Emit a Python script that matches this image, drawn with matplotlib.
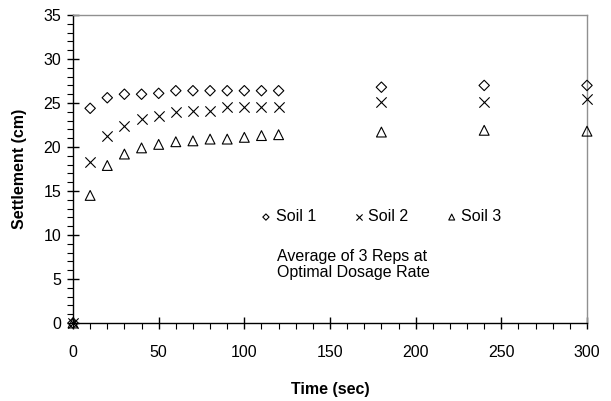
import matplotlib
matplotlib.use("Agg")
import matplotlib.pyplot as plt
from matplotlib.ticker import MultipleLocator

plt.rcParams["font.family"] = ["Liberation Sans", "DejaVu Sans"]

time_sec = [0, 10, 20, 30, 40, 50, 60, 70, 80, 90, 100, 110, 120, 180, 240, 300]
soil1 = [0, 24.4, 25.6, 26.0, 26.0, 26.1, 26.4, 26.4, 26.4, 26.4, 26.4, 26.4, 26.4, 26.8, 27.0, 27.0]
soil2 = [0, 18.3, 21.3, 22.4, 23.2, 23.5, 24.0, 24.1, 24.1, 24.5, 24.5, 24.5, 24.6, 25.1, 25.1, 25.5]
soil3 = [0, 14.5, 17.9, 19.2, 19.9, 20.3, 20.6, 20.7, 20.9, 20.9, 21.1, 21.3, 21.4, 21.7, 21.9, 21.8]

fig = plt.figure(figsize=(6.11, 4.01), dpi=100)
ax = fig.add_axes([0.1195, 0.1945, 0.8412, 0.768])

ax.scatter(time_sec, soil1, marker="D", s=28, facecolors="none", edgecolors="black",
           linewidths=0.8, label="Soil 1", clip_on=False, zorder=3)
ax.scatter(time_sec, soil2, marker="x", s=55, color="black",
           linewidths=0.8, label="Soil 2", clip_on=False, zorder=3)
ax.scatter(time_sec, soil3, marker="^", s=50, facecolors="none", edgecolors="black",
           linewidths=0.8, label="Soil 3", clip_on=False, zorder=3)

ax.set_xlim(0, 300)
ax.set_ylim(0, 35)
ax.xaxis.set_major_locator(MultipleLocator(50))
ax.xaxis.set_minor_locator(MultipleLocator(10))
ax.yaxis.set_major_locator(MultipleLocator(5))
ax.yaxis.set_minor_locator(MultipleLocator(1))
ax.tick_params(which="major", direction="inout", length=9, width=1.0, labelsize=11.5)
ax.tick_params(which="minor", direction="out", length=4, width=0.8)
ax.tick_params(axis="x", which="major", pad=11)
ax.tick_params(axis="y", which="major", pad=4)

for side in ("left", "bottom"):
    ax.spines[side].set_color("black")
    ax.spines[side].set_linewidth(1.0)
for side in ("top", "right"):
    ax.spines[side].set_color("#909090")
    ax.spines[side].set_linewidth(1.0)

ax.set_xlabel("Time (sec)", fontsize=11.5, fontweight="bold", labelpad=16)
ax.set_ylabel("Settlement (cm)", fontsize=11.5, fontweight="bold", labelpad=12)

leg = ax.legend(loc="center left", bbox_to_anchor=(0.366, 0.345), ncol=3, frameon=False,
                fontsize=11.5, handlelength=0.6, handletextpad=0.3, columnspacing=2.4,
                markerscale=0.6, borderpad=0, borderaxespad=0)

ax.text(0.397, 0.19, "Average of 3 Reps at\nOptimal Dosage Rate", transform=ax.transAxes,
        fontsize=11.5, ha="left", va="center", linespacing=1.05)

fig.savefig("out.png", dpi=100)
